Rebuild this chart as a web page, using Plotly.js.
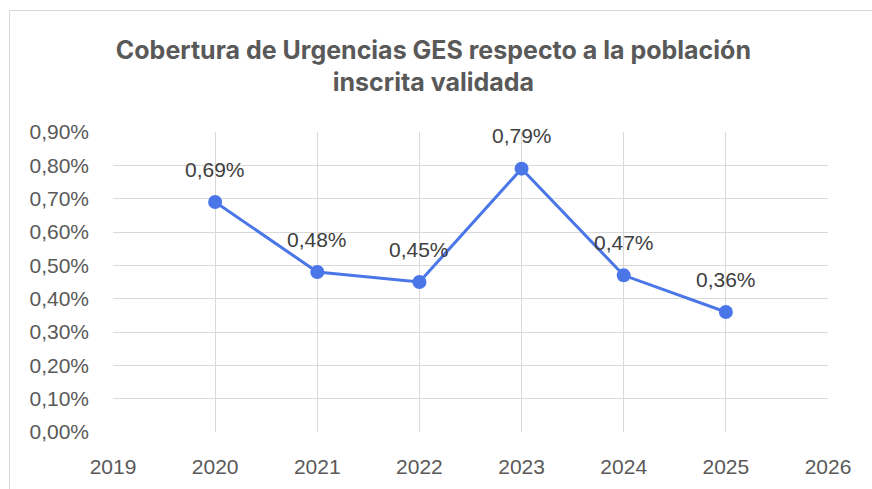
<!DOCTYPE html>
<html>
<head>
<meta charset="utf-8">
<script src="https://cdn.plot.ly/plotly-3.0.1.min.js"></script>
<style>
html,body{margin:0;padding:0;background:#fff;}
#frame{position:absolute;left:9px;top:10px;width:900px;height:600px;border:1px solid #d9d9d9;box-sizing:border-box;}
#chart{position:absolute;left:0;top:0;width:872px;height:489px;}
</style>
</head>
<body>
<div id="frame"></div>
<div id="chart"></div>
<script>
const years = [2020, 2021, 2022, 2023, 2024, 2025];
const coverage = [0.0069, 0.0048, 0.0045, 0.0079, 0.0047, 0.0036];
const xTicks = [2019, 2020, 2021, 2022, 2023, 2024, 2025, 2026];
const yTicks = [0, 0.001, 0.002, 0.003, 0.004, 0.005, 0.006, 0.007, 0.008, 0.009];
const titleText = "Cobertura de Urgencias GES respecto a la población<br>inscrita validada";

const color = "#4A76E8";
const fmt = v => (v*100).toFixed(2).replace('.', ',') + '%';

const trace = {
  x: years, y: coverage, type: 'scatter', mode: 'lines+markers',
  line: {color: color, width: 3},
  marker: {color: color, size: 14},
  hoverinfo: 'skip'
};

const annotations = years.map((yr, i) => ({
  x: yr, y: coverage[i], xref: 'x', yref: 'y',
  text: fmt(coverage[i]), showarrow: false, yshift: 33,
  font: {family: 'Liberation Sans, Arial, sans-serif', size: 21, color: '#404040'}
}));

const layout = {
  width: 872, height: 489,
  margin: {l: 113, r: 44, t: 132, b: 57},
  paper_bgcolor: 'rgba(0,0,0,0)', plot_bgcolor: 'rgba(0,0,0,0)',
  separators: ',.',
  showlegend: false,
  title: {text: titleText, x: 0.497, xanchor: 'center', y: 0.88, yanchor: 'top',
    font: {family: 'Inter, Open Sans, sans-serif', size: 25, color: '#595959', weight: 'bold'}},
  xaxis: {range: [2019, 2026], tickvals: xTicks, ticktext: xTicks.map(String),
    showgrid: true, gridcolor: '#d9d9d9', gridwidth: 1,
    showline: false, zeroline: false, ticks: '', ticklen: 0, ticklabelstandoff: 20,
    tickfont: {family: 'Liberation Sans, Arial, sans-serif', size: 21, color: '#595959'}},
  yaxis: {range: [0, 0.009], tickvals: yTicks, tickformat: '.2%',
    showgrid: true, gridcolor: '#d9d9d9', gridwidth: 1,
    showline: false, zeroline: false, ticks: '', ticklen: 0, ticklabelstandoff: 23,
    tickfont: {family: 'Liberation Sans, Arial, sans-serif', size: 21, color: '#595959'}},
  annotations: annotations
};

Plotly.newPlot('chart', [trace], layout, {displayModeBar: false, staticPlot: true});
</script>
</body>
</html>
